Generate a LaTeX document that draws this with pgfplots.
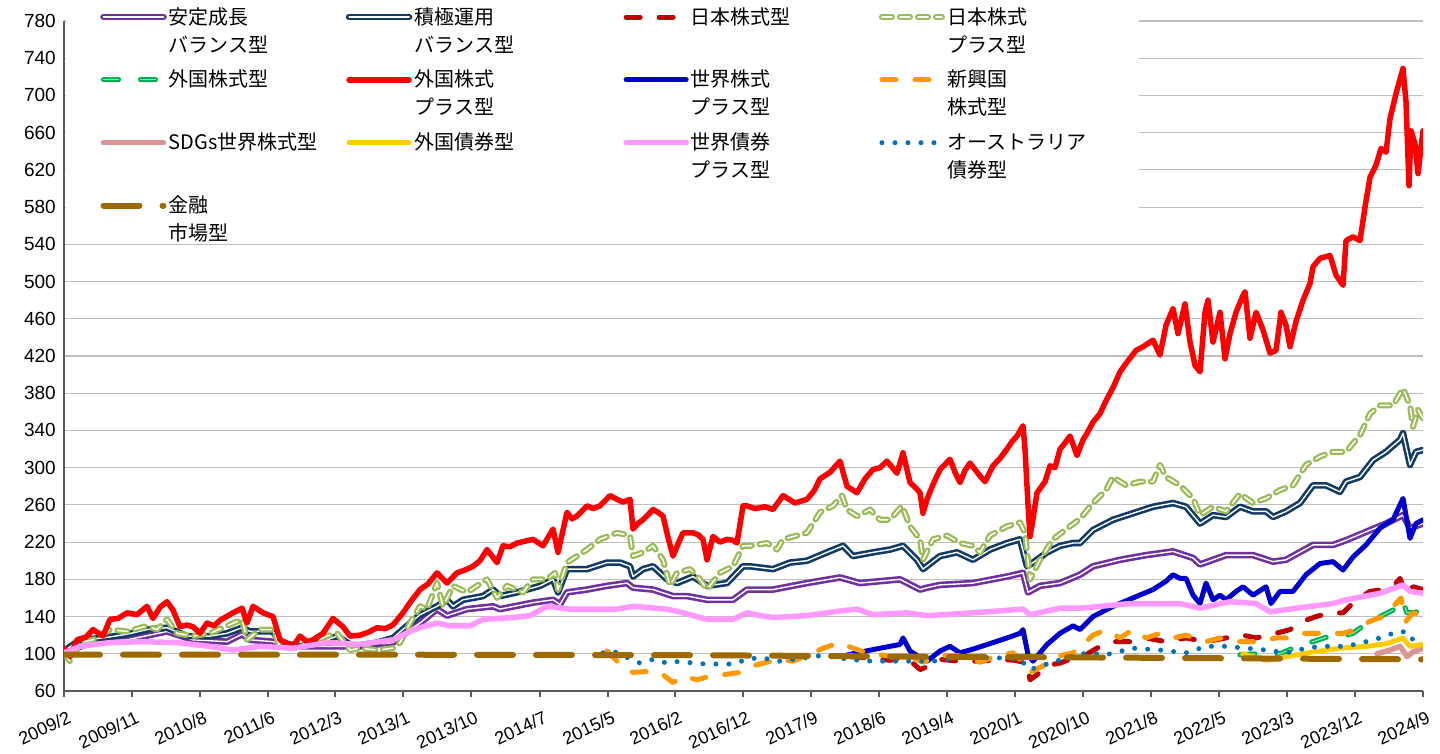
\documentclass[border=0pt]{standalone}
\usepackage{fontspec}
\setmainfont{Liberation Sans}
\newfontfamily\cjk{Noto Sans CJK JP}
\usepackage{pgfplots}
\pgfplotsset{compat=1.18}
\definecolor{cPurple}{HTML}{7030A0}
\definecolor{cNavy}{HTML}{123A66}
\definecolor{cDRed}{HTML}{C00000}
\definecolor{cLGreen}{HTML}{9BBB59}
\definecolor{cGreen}{HTML}{00B050}
\definecolor{cGreenIn}{HTML}{8FE0B0}
\definecolor{cRed}{HTML}{FF0000}
\definecolor{cBlue}{HTML}{0000CC}
\definecolor{cOrange}{HTML}{FF9900}
\definecolor{cRose}{HTML}{D99694}
\definecolor{cYellow}{HTML}{FFCC00}
\definecolor{cPink}{HTML}{FF99FF}
\definecolor{cLBlue}{HTML}{0070C0}
\definecolor{cBrown}{HTML}{9C6A00}
\newcommand{\LA}[2]{\parbox[t]{#1}{\cjk\fontsize{20}{28}\selectfont #2}}
\newcommand{\LB}[3]{\parbox[t]{#1}{\cjk\fontsize{20}{28}\selectfont #2\\#3}}
\begin{document}
\begin{tikzpicture}
\useasboundingbox (-64pt,-62pt) rectangle (1376pt,691pt);
\begin{axis}[
  at={(0pt,0pt)}, anchor=south west,
  scale only axis, width=1359pt, height=670pt,
  xmin=0, xmax=1359, ymin=60, ymax=780,
  axis x line*=bottom, axis y line*=left,
  axis line style={color=black!65, line width=1.3pt},
  xtick={0,68,136,204,271,339,407,476,544,611,679,747,815,883,951,1019,1087,1155,1223,1291,1359},
  xticklabels={2009/2,2009/11,2010/8,2011/6,2012/3,2013/1,2013/10,2014/7,2015/5,2016/2,2016/12,2017/9,2018/6,2019/4,2020/1,2020/10,2021/8,2022/5,2023/3,2023/12,2024/9},
  ytick={60,100,...,780},
  ymajorgrids, grid style={color=black!25, line width=1.2pt},
  tick align=outside, major tick length=6pt,
  ytick style={draw=none},
  xtick style={color=black!65, line width=1.3pt},
  yticklabel style={font=\fontsize{19}{22}\selectfont, anchor=east, inner sep=0pt, xshift=-2pt},
  /pgf/number format/assume math mode=true,
  xticklabel style={font=\fontsize{18}{21}\selectfont, rotate=25, anchor=north east, inner sep=0pt, yshift=-13pt, xshift=-3pt},
  no markers,
  every axis plot/.append style={line join=round, line cap=round},
  legend columns=4,
  legend style={at={(rel axis cs:0,1)}, anchor=north west, xshift=2pt, yshift=16pt,
    draw=none, fill=white, inner xsep=34pt, inner ysep=0pt,
    column sep=0pt, row sep=40.5pt, cells={anchor=base west, inner sep=0pt}},
  legend image code/.code={\draw[#1] (0pt,7pt) -- (60pt,7pt);},
]
% 1 安定成長バランス型
\addplot[color=cPurple, line width=2.6pt, double=white, double distance=1.4pt] coordinates {
(0,101) (29,113) (63,115) (103,124) (129,115) (163,113) (178,121) (186,115) (209,113) (223,108) (263,108) (296,108) (329,112) (346,126) (356,133) (373,148) (383,141) (403,148) (429,151) (436,148) (469,155) (489,158) (496,153) (503,166) (523,169) (543,173) (563,176) (569,171) (589,169) (609,162) (623,162) (643,158) (669,158) (683,169) (696,169) (709,169) (743,176) (776,182) (796,176) (836,180) (856,169) (863,171) (876,174) (909,176) (943,183) (959,187) (964,166) (976,173) (996,176) (1016,185) (1029,194) (1056,201) (1082,206) (1109,210) (1129,203) (1136,196) (1162,206) (1189,206) (1209,199) (1222,201) (1249,217) (1269,217) (1282,222) (1302,231) (1322,240) (1339,249) (1346,235) (1359,240)};
\addlegendentry{\LB{175pt}{安定成長}{バランス型}}
% 2 積極運用バランス型
\addplot[color=cNavy, line width=2.6pt, double=white, double distance=1.4pt] coordinates {
(0,103) (16,115) (39,117) (63,121) (83,126) (103,128) (123,119) (146,119) (163,122) (178,128) (186,124) (209,124) (216,112) (236,108) (256,112) (273,119) (289,108) (313,112) (329,117) (343,130) (356,142) (373,151) (383,158) (389,151) (399,158) (419,162) (429,169) (436,162) (453,166) (476,173) (489,180) (494,166) (503,191) (523,191) (543,198) (556,198) (566,194) (569,183) (579,191) (589,194) (603,180) (613,176) (629,183) (643,173) (663,176) (679,194) (686,194) (709,191) (726,198) (743,200) (763,209) (779,216) (789,205) (809,209) (826,212) (839,216) (853,201) (859,191) (876,205) (893,209) (909,201) (926,212) (943,219) (956,223) (963,194) (969,198) (983,209) (996,216) (1009,219) (1016,219) (1029,233) (1049,244) (1069,251) (1089,258) (1109,262) (1122,258) (1136,240) (1149,249) (1162,247) (1176,258) (1189,253) (1202,253) (1209,247) (1222,253) (1236,262) (1249,281) (1262,281) (1276,274) (1282,285) (1296,290) (1309,308) (1322,317) (1336,330) (1339,337) (1346,303) (1352,317) (1359,319)};
\addlegendentry{\LB{207pt}{積極運用}{バランス型}}
% 3 日本株式型
\addplot[color=cDRed, line width=5pt, dash pattern=on 14pt off 19pt] coordinates {
(786,97) (809,95) (826,93) (841,96) (851,88) (856,83) (863,86) (876,94) (896,92) (916,92) (936,94) (951,93) (963,90) (966,72) (976,80) (986,88) (996,90) (1011,96) (1022,99) (1036,108) (1049,113) (1069,113) (1082,117) (1102,113) (1122,117) (1142,113) (1162,117) (1179,120) (1192,117) (1212,122) (1226,126) (1239,135) (1252,140) (1266,144) (1279,144) (1292,158) (1306,167) (1319,169) (1332,176) (1336,181) (1342,163) (1349,172) (1359,169)};
\addlegendentry{\LA{186pt}{日本株式型}}
% 4 日本株式プラス型
\addplot[color=cLGreen, line width=2.3pt, double=white, double distance=1.5pt, dash pattern=on 10pt off 8pt] coordinates {
(0,101) (6,92) (16,112) (29,115) (46,126) (63,124) (83,130) (93,126) (103,137) (113,122) (129,119) (146,122) (163,130) (178,137) (183,115) (196,126) (209,126) (216,108) (229,106) (249,112) (263,119) (273,122) (286,104) (296,106) (313,104) (329,106) (336,112) (346,133) (356,151) (363,148) (373,176) (379,151) (389,173) (403,166) (423,180) (433,160) (443,173) (459,166) (469,180) (483,180) (491,187) (494,169) (503,198) (523,212) (536,223) (553,230) (566,227) (569,205) (579,209) (589,216) (599,201) (606,173) (613,187) (626,191) (636,180) (643,169) (656,187) (669,194) (679,216) (686,216) (703,219) (713,212) (719,223) (743,230) (756,252) (769,259) (778,270) (783,255) (793,248) (806,255) (816,244) (826,244) (838,259) (846,237) (856,223) (859,201) (869,223) (883,227) (896,219) (909,216) (916,209) (926,227) (943,237) (956,241) (961,230) (966,180) (976,201) (989,223) (1006,237) (1016,245) (1029,262) (1042,276) (1049,290) (1062,281) (1076,285) (1089,285) (1096,303) (1102,290) (1116,281) (1129,267) (1136,249) (1149,258) (1162,253) (1176,272) (1189,262) (1202,267) (1216,276) (1229,281) (1242,303) (1256,312) (1269,317) (1282,317) (1296,335) (1306,358) (1316,367) (1329,367) (1339,385) (1346,367) (1349,344) (1354,362) (1359,353)};
\addlegendentry{\LB{156pt}{日本株式}{プラス型}}
% 5 外国株式型
\addplot[color=cGreen, line width=2pt, double=cGreenIn, double distance=1.2pt, dash pattern=on 15pt off 22pt] coordinates {
(1176,99) (1196,100) (1216,100) (1229,106) (1243,111) (1263,118) (1276,118) (1289,122) (1303,133) (1316,140) (1329,147) (1338,158) (1343,144) (1349,144) (1359,147)};
\addlegendentry{\LA{175pt}{外国株式型}}
% 6 外国株式プラス型
\addplot[color=cRed, line width=5.5pt] coordinates {
(0,106) (6,97) (13,115) (22,118) (29,126) (39,119) (46,137) (54,138) (63,144) (73,142) (83,151) (89,138) (96,150) (103,156) (109,147) (116,129) (123,131) (129,129) (136,122) (143,133) (150,130) (156,136) (169,144) (178,149) (183,133) (189,151) (199,144) (209,140) (216,115) (222,112) (229,108) (236,119) (243,113) (249,115) (259,122) (269,138) (279,129) (286,119) (296,120) (304,123) (313,128) (321,127) (329,131) (339,144) (346,155) (356,169) (364,175) (373,187) (383,176) (393,187) (401,190) (409,194) (416,200) (423,212) (433,198) (439,216) (446,215) (453,219) (461,221) (469,223) (479,216) (489,234) (494,209) (503,252) (508,245) (513,248) (523,259) (529,256) (536,259) (546,270) (553,266) (559,263) (566,266) (569,234) (574,240) (579,244) (589,255) (594,252) (599,248) (604,225) (609,205) (614,218) (619,230) (629,230) (634,228) (639,223) (643,201) (649,226) (656,220) (663,223) (669,222) (673,219) (679,259) (683,259) (691,256) (701,258) (709,255) (719,270) (731,262) (743,266) (750,275) (756,288) (766,295) (776,307) (783,280) (793,273) (801,288) (809,298) (816,300) (823,307) (833,294) (839,316) (846,284) (852,278) (856,273) (859,251) (863,266) (869,282) (876,298) (886,309) (891,295) (896,284) (901,297) (906,305) (916,291) (921,285) (929,302) (936,310) (943,320) (948,328) (953,334) (959,345) (961,320) (964,260) (966,226) (969,245) (973,273) (981,285) (986,302) (991,300) (996,320) (1002,328) (1006,334) (1013,313) (1019,330) (1022,335) (1029,349) (1036,358) (1042,372) (1049,386) (1056,403) (1062,412) (1072,426) (1079,430) (1089,437) (1096,421) (1102,453) (1109,471) (1114,444) (1121,476) (1126,435) (1131,410) (1136,403) (1141,467) (1144,480) (1149,435) (1156,467) (1161,417) (1166,444) (1172,467) (1179,485) (1181,489) (1186,439) (1192,467) (1199,448) (1206,423) (1212,426) (1217,467) (1222,453) (1226,430) (1232,457) (1239,480) (1246,498) (1249,516) (1256,525) (1266,528) (1272,507) (1279,496) (1282,544) (1289,548) (1296,544) (1301,580) (1306,612) (1312,625) (1317,643) (1322,639) (1326,675) (1332,702) (1339,729) (1342,693) (1345,603) (1347,662) (1351,648) (1354,616) (1359,662)};
\addlegendentry{\LB{207pt}{外国株式}{プラス型}}
% 7 世界株式プラス型
\addplot[color=cBlue, line width=5pt] coordinates {
(776,97) (793,101) (816,106) (836,110) (839,117) (846,103) (856,96) (863,92) (876,103) (886,108) (896,101) (909,105) (929,112) (943,117) (956,122) (959,126) (964,99) (969,92) (983,110) (996,122) (1009,130) (1016,126) (1029,140) (1049,151) (1069,160) (1089,169) (1102,178) (1109,185) (1116,181) (1122,181) (1129,163) (1136,154) (1142,176) (1149,158) (1156,163) (1162,158) (1172,167) (1179,172) (1189,163) (1202,172) (1207,154) (1216,167) (1229,167) (1242,185) (1256,197) (1269,199) (1279,190) (1289,204) (1302,217) (1316,235) (1329,244) (1339,267) (1346,224) (1352,240) (1359,244)};
\addlegendentry{\LB{186pt}{世界株式}{プラス型}}
% 8 新興国株式型
\addplot[color=cOrange, line width=5pt, dash pattern=on 14pt off 19pt] coordinates {
(543,103) (553,92) (569,80) (583,81) (596,80) (609,69) (619,76) (633,72) (646,76) (663,78) (676,80) (689,87) (703,91) (716,94) (729,92) (743,98) (759,106) (776,112) (789,106) (803,101) (816,99) (833,96) (849,96) (859,91) (876,98) (896,98) (916,91) (933,98) (949,101) (963,87) (966,80) (979,87) (996,98) (1009,101) (1019,110) (1029,120) (1042,126) (1056,117) (1069,126) (1082,117) (1096,122) (1109,117) (1122,120) (1142,113) (1156,117) (1176,113) (1192,113) (1212,117) (1226,117) (1239,122) (1252,122) (1266,122) (1279,122) (1292,126) (1306,135) (1319,140) (1332,154) (1337,160) (1342,135) (1349,144) (1359,140)};
\addlegendentry{\LB{156pt}{新興国}{株式型}}
% 9 SDGs世界株式型
\addplot[color=cRose, line width=5.5pt] coordinates {
(1313,100) (1326,104) (1336,108) (1343,97) (1349,102) (1359,106)};
\addlegendentry{\LA{175pt}{SDGs世界株式型}}
% 10 外国債券型
\addplot[color=cYellow, line width=5pt] coordinates {
(1179,100) (1191,96) (1203,93) (1223,97) (1249,102) (1276,106) (1303,108) (1323,111) (1339,117) (1346,108) (1359,110)};
\addlegendentry{\LA{207pt}{外国債券型}}
% 11 世界債券プラス型
\addplot[color=cPink, line width=5.5pt] coordinates {
(0,101) (16,108) (46,112) (79,113) (113,112) (146,108) (169,104) (196,108) (229,106) (263,112) (296,110) (329,115) (346,124) (356,128) (373,133) (386,130) (406,130) (419,137) (449,139) (466,141) (483,151) (506,148) (553,148) (569,151) (603,148) (619,144) (643,137) (669,137) (683,144) (696,141) (709,139) (743,141) (776,146) (793,148) (809,142) (843,144) (863,141) (909,144) (959,148) (966,142) (996,149) (1016,149) (1066,154) (1116,154) (1136,149) (1166,156) (1192,154) (1206,145) (1232,149) (1269,154) (1282,158) (1316,165) (1339,174) (1346,167) (1359,165)};
\addlegendentry{\LB{186pt}{世界債券}{プラス型}}
% 12 オーストラリア債券型
\addplot[color=cLBlue, line width=5pt, dash pattern=on 0pt off 13pt] coordinates {
(539,101) (549,103) (563,96) (576,90) (589,94) (603,90) (616,92) (629,90) (643,89) (656,89) (669,89) (683,94) (696,96) (716,92) (743,96) (763,99) (783,94) (809,92) (843,92) (869,92) (896,96) (929,96) (956,94) (966,83) (983,89) (1003,96) (1023,101) (1042,99) (1069,106) (1096,104) (1122,101) (1142,108) (1162,108) (1182,106) (1202,104) (1222,101) (1242,106) (1256,108) (1282,108) (1302,113) (1316,117) (1329,122) (1339,124) (1346,115) (1359,120)};
\addlegendentry{\LB{156pt}{オーストラリア}{債券型}}
% 13 金融市場型
\addplot[color=cBrown, line width=6pt, dash pattern=on 36pt off 23pt] coordinates {
(0,99) (336,99) (636,98.5) (836,97) (1036,96) (1186,95) (1359,94)};
\addlegendentry{\LB{175pt}{金融}{市場型}}
\end{axis}
\end{tikzpicture}
\end{document}
